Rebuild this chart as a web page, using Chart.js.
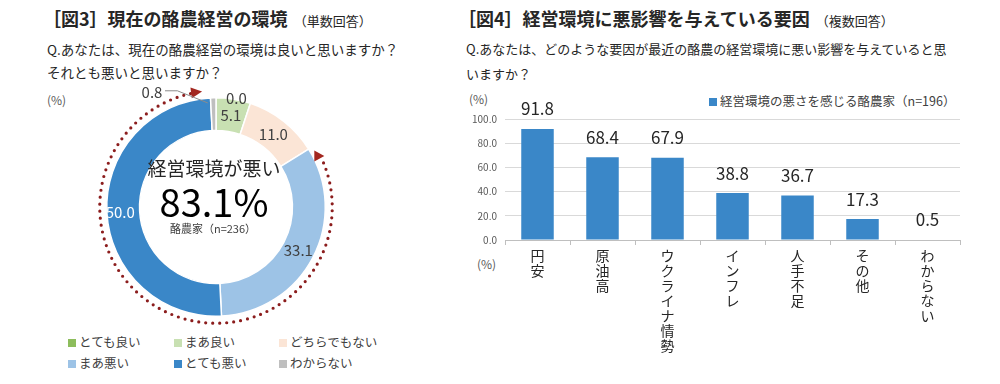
<!DOCTYPE html>
<html lang="ja">
<head>
<meta charset="utf-8">
<script src="https://cdn.jsdelivr.net/npm/chart.js@4.4.0/dist/chart.umd.min.js"></script>
<style>
  body { margin: 0; width: 1000px; height: 384px; background: #fff; position: relative; overflow: hidden;
         font-family: "Noto Sans CJK JP", sans-serif; color: #262626; }
  .abs { position: absolute; white-space: nowrap; }
  .title { font-size: 18px; font-weight: bold; line-height: 24px; }
  .title small { font-size: 13px; font-weight: normal; margin-left: 6px; }
  .q { font-size: 13.5px; line-height: 23px; }
  .unit { font-size: 12px; color: #595959; line-height: 16px; }
  .legend { font-size: 12.5px; color: #404040; line-height: 16px; }
  .sw { display: inline-block; width: 8px; height: 8px; margin-right: 3px; vertical-align: 0; }
  canvas { position: absolute; }
</style>
</head>
<body>
  <div class="abs title" style="left:43px; top:6px;">［図3］現在の酪農経営の環境<small>（単数回答）</small></div>
  <div class="abs q" style="left:47px; top:38px;">Q.あなたは、現在の酪農経営の環境は良いと思いますか？<br>それとも悪いと思いますか？</div>
  <div class="abs unit" style="left:47px; top:92px;">(%)</div>
  <div id="donut-legend"></div>
  <canvas id="donut" width="260" height="260" style="left:86px; top:77px;"></canvas>

  <div class="abs title" style="left:458px; top:6px;">［図4］経営環境に悪影響を与えている要因<small>（複数回答）</small></div>
  <div class="abs q" style="left:466px; top:36px; font-size:13px; line-height:25px;">Q.あなたは、どのような要因が最近の酪農の経営環境に悪い影響を与えていると思<br>いますか？</div>
  <div class="abs unit" style="left:469px; top:91px;">(%)</div>
  <div class="abs unit" style="left:477px; top:256px;">(%)</div>
  <div id="bar-legend"></div>
  <canvas id="bars" width="520" height="289" style="left:455px; top:95px;"></canvas>

<script>
const answerLabels = ['とても良い', 'まあ良い', 'どちらでもない', 'まあ悪い', 'とても悪い', 'わからない'];
const answerValues = [0.0, 5.1, 11.0, 33.1, 50.0, 0.8];
const answerColors = ['#8dbd5c', '#c8e0b2', '#fbe5d6', '#9dc3e6', '#3a87c8', '#bfbfbf'];
const badShareText = '83.1%';
const dairySample = '酪農家（n=236）';

const factorLabels = ['円安', '原油高', 'ウクライナ情勢', 'インフレ', '人手不足', 'その他', 'わからない'];
const factorValues = [91.8, 68.4, 67.9, 38.8, 36.7, 17.3, 0.5];
const factorSeries = '経営環境の悪さを感じる酪農家（n=196）';
const percentTicks = [0, 20, 40, 60, 80, 100];

const fontFamily = '"Noto Sans CJK JP", sans-serif';
Chart.defaults.font.family = fontFamily;
Chart.defaults.animation = false;

// legends as plain html so the columns line up like the original
const donutLegend = document.getElementById('donut-legend');
answerLabels.forEach((label, i) => {
  const col = i % 3, row = Math.floor(i / 3);
  const el = document.createElement('div');
  el.className = 'abs legend';
  el.style.left = [68, 174, 279][col] + 'px';
  el.style.top = (334 + row * 21) + 'px';
  el.innerHTML = `<span class="sw" style="background:${answerColors[i]}"></span>${label}`;
  donutLegend.appendChild(el);
});
const barLegend = document.getElementById('bar-legend');
barLegend.className = 'abs legend';
barLegend.style.left = '709px';
barLegend.style.top = '93px';
barLegend.innerHTML = `<span class="sw" style="background:#3a87c8"></span>${factorSeries}`;

function arrowHead(ctx, x, y, dir, len, half) {
  const bx = x - Math.cos(dir) * len;
  const by = y - Math.sin(dir) * len;
  ctx.beginPath();
  ctx.moveTo(x, y);
  ctx.lineTo(bx - Math.sin(dir) * half, by + Math.cos(dir) * half);
  ctx.lineTo(bx + Math.sin(dir) * half, by - Math.cos(dir) * half);
  ctx.closePath();
  ctx.fill();
}

const donutDecor = {
  id: 'donutDecor',
  afterDatasetsDraw(chart) {
    const ctx = chart.ctx;
    const arcs = chart.getDatasetMeta(0).data;
    const cx = arcs[0].x, cy = arcs[0].y;
    const outer = arcs[0].outerRadius, inner = arcs[0].innerRadius;
    const mid = (outer + inner) / 2;
    ctx.save();

    // dotted bracket around まあ悪い + とても悪い
    const a0 = arcs[3].startAngle, a1 = arcs[4].endAngle;
    const rr = outer + 7;
    ctx.strokeStyle = '#8c1d1d';
    ctx.fillStyle = '#a3271f';
    ctx.lineWidth = 3.2;
    ctx.lineCap = 'round';
    ctx.setLineDash([0, 7]);
    ctx.beginPath();
    ctx.arc(cx, cy, rr, a0 + 0.17, a1 - 0.16);
    ctx.stroke();
    ctx.setLineDash([]);
    const ta = a1 - 0.07;
    arrowHead(ctx, cx + Math.cos(ta) * rr, cy + Math.sin(ta) * rr, ta + Math.PI / 2, 11, 5.5);
    const sa = a0 + 0.1;
    arrowHead(ctx, cx + Math.cos(sa) * (rr - 1) + 5, cy + Math.sin(sa) * (rr - 1), 0, 10, 5.5);

    // value labels
    ctx.font = '15px ' + fontFamily;
    ctx.textBaseline = 'middle';
    arcs.forEach((arc, i) => {
      const a = (arc.startAngle + arc.endAngle) / 2;
      const text = answerValues[i].toFixed(1);
      ctx.fillStyle = i === 4 ? '#ffffff' : '#404040';
      if (i === 0) {
        ctx.textAlign = 'left';
        ctx.fillText(text, cx + Math.cos(a) * outer + 10, cy + Math.sin(a) * outer + 1);
      } else if (i === answerValues.length - 1) {
        const sx = cx + Math.cos(a) * (outer - 5) - 6, sy = cy + Math.sin(a) * (outer - 5);
        ctx.strokeStyle = '#8c8c8c';
        ctx.lineWidth = 1;
        ctx.beginPath();
        ctx.moveTo(sx, sy);
        ctx.lineTo(sx - 30, sy - 12);
        ctx.lineTo(sx - 42, sy - 12);
        ctx.stroke();
        ctx.textAlign = 'right';
        ctx.fillStyle = '#404040';
        ctx.fillText(text, sx - 45, sy - 10);
      } else {
        ctx.textAlign = 'center';
        const r = i === 4 ? mid + 3 : mid;
        ctx.fillText(text, cx + Math.cos(a) * r, cy + Math.sin(a) * r);
      }
    });

    // centre text
    ctx.textAlign = 'center';
    ctx.fillStyle = '#262626';
    ctx.font = '19px ' + fontFamily;
    ctx.fillText('経営環境が悪い', cx - 2, cy - 38);
    ctx.fillStyle = '#000000';
    ctx.font = '38px ' + fontFamily;
    ctx.fillText(badShareText, cx - 2, cy - 4);
    ctx.fillStyle = '#404040';
    ctx.font = '11px ' + fontFamily;
    ctx.fillText(dairySample, cx - 3, cy + 22);
    ctx.restore();
  }
};

new Chart(document.getElementById('donut'), {
  type: 'doughnut',
  data: {
    labels: answerLabels,
    datasets: [{
      data: answerValues,
      backgroundColor: answerColors,
      borderColor: '#ffffff',
      borderWidth: 1.5,
    }],
  },
  options: {
    responsive: false,
    cutout: '70%',
    layout: { padding: 20 },
    plugins: { legend: { display: false }, tooltip: { enabled: false } },
  },
  plugins: [donutDecor],
});

const barValues = {
  id: 'barValues',
  afterDatasetsDraw(chart) {
    const ctx = chart.ctx;
    ctx.save();
    ctx.font = '17px ' + fontFamily;
    ctx.fillStyle = '#262626';
    ctx.textAlign = 'center';
    ctx.textBaseline = 'middle';
    chart.getDatasetMeta(0).data.forEach((bar, i) => {
      ctx.fillText(factorValues[i].toFixed(1), bar.x, bar.y - 20);
    });
    ctx.restore();
  }
};

new Chart(document.getElementById('bars'), {
  type: 'bar',
  data: {
    // one character per line to stack the labels vertically
    labels: factorLabels.map((s) => Array.from(s)),
    datasets: [{
      label: factorSeries,
      data: factorValues,
      backgroundColor: '#3a87c8',
      barPercentage: 0.5,
      categoryPercentage: 1,
    }],
  },
  options: {
    responsive: false,
    layout: { padding: { top: 24, right: 15, left: 0, bottom: 0 } },
    plugins: { legend: { display: false }, tooltip: { enabled: false } },
    scales: {
      x: {
        grid: { offset: true, drawOnChartArea: false, tickLength: 5, color: '#bfbfbf' },
        border: { color: '#bfbfbf' },
        ticks: {
          color: '#262626',
          font: { size: 14, lineHeight: 1.07 },
          padding: 3,
          maxRotation: 0,
          minRotation: 0,
          autoSkip: false,
        },
        afterFit(scale) { scale.height = 144; },
      },
      y: {
        min: percentTicks[0],
        max: percentTicks[percentTicks.length - 1],
        afterBuildTicks(scale) { scale.ticks = percentTicks.map((v) => ({ value: v })); },
        ticks: {
          color: '#595959',
          font: { size: 10 },
          padding: 8,
          callback: (v) => Number(v).toFixed(1),
        },
        grid: { color: '#d9d9d9', drawTicks: false },
        border: { display: false },
        afterFit(scale) { scale.width = 50; },
      },
    },
  },
  plugins: [barValues],
});
</script>
</body>
</html>
